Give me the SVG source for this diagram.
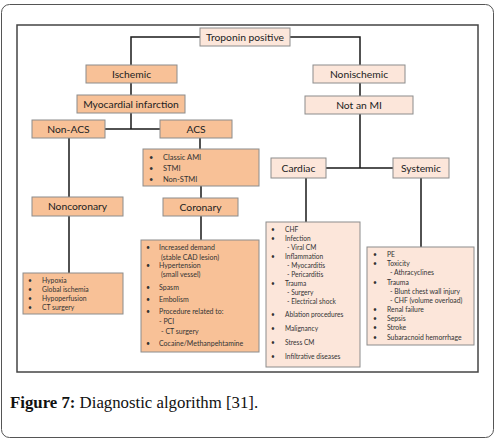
<svg xmlns="http://www.w3.org/2000/svg" width="499" height="439" viewBox="0 0 499 439">
<style>
.o{fill:#f8c197;stroke:#8c8c8c;stroke-width:1}
.l{fill:#fce6da;stroke:#8c8c8c;stroke-width:1}
.h{font-family:Lato,"Open Sans",sans-serif;font-size:10.3px;fill:#222;text-anchor:middle}
.t{font-family:Lato,"Open Sans",sans-serif;fill:#333}
.c{fill:none;stroke:#1a1a1a;stroke-width:1.5}
</style>
<rect x="1.5" y="4.5" width="492" height="433" rx="8" fill="#fff" stroke="#555" stroke-width="1"/>
<rect x="17" y="25" width="461" height="347" fill="#fff" stroke="#444" stroke-width="1.5"/>
<g id="connectors">
<path class="c" d="M200,37H131V65M290,37H360V65M131,83V95M360,83V96M131,113V129M105,129H160M69,138V197M200,138V149M201,186V198M69,216V273M201,216V240M360,114V168M326,168H393M306,178V222M421,178V247"/>
</g>
<g id="troponin"><rect class="l" x="200" y="28" width="90" height="18"/><text class="h" x="245" y="40.5">Troponin positive</text></g>
<g id="ischemic"><rect class="o" x="86" y="65" width="91" height="18"/><text class="h" x="131.5" y="77.5">Ischemic</text></g>
<g id="nonischemic"><rect class="l" x="313" y="65" width="92" height="18"/><text class="h" x="359" y="77.5">Nonischemic</text></g>
<g id="mi"><rect class="o" x="77" y="95" width="108" height="18"/><text class="h" x="131" y="107.5">Myocardial infarction</text></g>
<g id="notmi"><rect class="l" x="305" y="96" width="108" height="18"/><text class="h" x="359" y="108.5">Not an MI</text></g>
<g id="nonacs"><rect class="o" x="32" y="120" width="73" height="18"/><text class="h" x="68.5" y="132.5">Non-ACS</text></g>
<g id="acs"><rect class="o" x="160" y="120" width="72" height="18"/><text class="h" x="196" y="132.5">ACS</text></g>
<g id="ami-list"><rect class="o" x="143" y="149" width="116" height="37"/>
<g class="t" font-size="7.5"><text x="149" y="160">•</text><text x="163" y="160">Classic AMI</text><text x="149" y="171">•</text><text x="163" y="171">STMI</text><text x="149" y="182">•</text><text x="163" y="182">Non-STMI</text></g></g>
<g id="noncoronary"><rect class="o" x="32" y="197" width="91" height="19"/><text class="h" x="77.5" y="210" font-size="10.8">Noncoronary</text></g>
<g id="coronary"><rect class="o" x="163" y="198" width="75" height="18"/><text class="h" x="200.5" y="210.5" font-size="10.8">Coronary</text></g>
<g id="noncoronary-list"><rect class="o" x="23" y="273" width="100" height="41"/>
<g class="t" font-size="6.8"><text x="28" y="283">•</text><text x="42" y="283">Hypoxia</text><text x="28" y="292">•</text><text x="42" y="292">Global ischemia</text><text x="28" y="301">•</text><text x="42" y="301">Hypoperfusion</text><text x="28" y="310">•</text><text x="42" y="310">CT surgery</text></g></g>
<g id="coronary-list"><rect class="o" x="141" y="240" width="118" height="112"/>
<g class="t" font-size="7"><text x="146" y="249.5">•</text><text x="159" y="249.5">Increased demand</text><text x="161" y="259.5">(stable CAD lesion)</text><text x="146" y="267.5">•</text><text x="159" y="267.5">Hypertension</text><text x="161" y="276.5">(small vessel)</text><text x="146" y="289.5">•</text><text x="159" y="289.5">Spasm</text><text x="146" y="301.5">•</text><text x="159" y="301.5">Embolism</text><text x="146" y="313.5">•</text><text x="159" y="313.5">Procedure  related to:</text><text x="159" y="323.5">- PCI</text><text x="161" y="333.5">- CT surgery</text><text x="146" y="345.5">•</text><text x="159" y="345.5">Cocaine/Methanpehtamine</text></g></g>
<g id="cardiac"><rect class="l" x="271" y="158" width="55" height="20"/><text class="h" x="298.5" y="171.5">Cardiac</text></g>
<g id="systemic"><rect class="l" x="393" y="158" width="56" height="20"/><text class="h" x="421" y="171.5">Systemic</text></g>
<g id="cardiac-list"><rect class="l" x="266" y="222" width="94" height="145"/>
<g class="t" font-size="6.6"><text x="271" y="231.5">•</text><text x="285" y="231.5">CHF</text><text x="271" y="240.5">•</text><text x="285" y="240.5">Infection</text><text x="287" y="249.5">- Viral CM</text><text x="271" y="258.5">•</text><text x="285" y="258.5">Inflammation</text><text x="287" y="267.5">- Myocarditis</text><text x="287" y="276.5">- Pericarditis</text><text x="271" y="285.5">•</text><text x="285" y="285.5">Trauma</text><text x="287" y="294.5">- Surgery</text><text x="287" y="303.5">- Electrical shock</text><text x="271" y="316.5">•</text><text x="285" y="316.5">Ablation procedures</text><text x="271" y="330.5">•</text><text x="285" y="330.5">Malignancy</text><text x="271" y="344.5">•</text><text x="285" y="344.5">Stress CM</text><text x="271" y="358.5">•</text><text x="285" y="358.5">Infiltrative diseases</text></g></g>
<g id="systemic-list"><rect class="l" x="367" y="247" width="107" height="98"/>
<g class="t" font-size="6.8"><text x="373" y="256.5">•</text><text x="387" y="256.5">PE</text><text x="373" y="265.5">•</text><text x="387" y="265.5">Toxicity</text><text x="390" y="275">- Athracyclines</text><text x="373" y="284.5">•</text><text x="387" y="284.5">Trauma</text><text x="390" y="293.5">- Blunt chest wall injury</text><text x="390" y="302.5">- CHF (volume overload)</text><text x="373" y="311.5">•</text><text x="387" y="311.5">Renal failure</text><text x="373" y="321">•</text><text x="387" y="321">Sepsis</text><text x="373" y="330">•</text><text x="387" y="330">Stroke</text><text x="373" y="339.5">•</text><text x="387" y="339.5">Subaracnoid hemorrhage</text></g></g>
<text x="10" y="408" font-family="Liberation Serif,serif" font-size="16.8" fill="#111"><tspan font-weight="bold">Figure 7:</tspan> Diagnostic algorithm [31].</text>
</svg>
